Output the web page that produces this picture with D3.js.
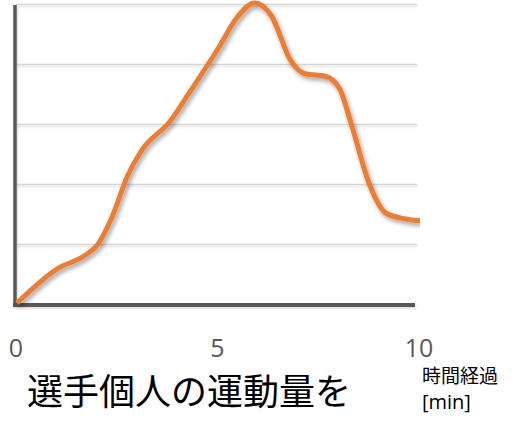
<!DOCTYPE html>
<html>
<head>
<meta charset="utf-8">
<script src="https://cdn.jsdelivr.net/npm/d3@7"></script>
<style>
  html, body { margin: 0; padding: 0; background: #fff; }
  svg { display: block; }
</style>
</head>
<body>
<svg id="chart" width="531" height="426"></svg>
<script>
// values (minutes vs. activity level)
const minutes = [0, 1.0, 1.7, 2.0, 2.35, 2.75, 3.1, 3.8, 4.3, 5.0, 5.45, 5.9, 6.3, 6.8, 7.15, 7.65, 8.0, 8.3, 8.75, 9.15, 9.65, 10];
const amount = [0, 0.57, 0.8, 0.97, 1.42, 2.13, 2.55, 3.03, 3.53, 4.25, 4.75, 5.0, 4.8, 4.03, 3.82, 3.78, 3.58, 2.97, 1.97, 1.5, 1.4, 1.37];
const xTicks = [0, 5, 10];
const gridValues = [1, 2, 3, 4, 5];
const title = "選手個人の運動量を";
const xTitle = ["時間経過", "[min]"];

const svg = d3.select("#chart");

const x = d3.scaleLinear().domain([0, 10]).range([17, 420]);
const y = d3.scaleLinear().domain([0, 5]).range([305, 5]);

const defs = svg.append("defs");
const shadow = defs.append("filter").attr("id", "shadow")
    .attr("x", "-10%").attr("y", "-10%").attr("width", "130%").attr("height", "130%");
shadow.append("feDropShadow")
    .attr("dx", 2).attr("dy", 3).attr("stdDeviation", 2)
    .attr("flood-color", "#000").attr("flood-opacity", 0.35);

// lines have a flat bounding box, so this one works in user space
const soft = defs.append("filter").attr("id", "soft")
    .attr("filterUnits", "userSpaceOnUse")
    .attr("x", 0).attr("y", 0).attr("width", 531).attr("height", 426);
soft.append("feDropShadow")
    .attr("dx", 1).attr("dy", 1.5).attr("stdDeviation", 1)
    .attr("flood-color", "#000").attr("flood-opacity", 0.15);

defs.append("clipPath").attr("id", "plot")
    .append("rect").attr("x", 0).attr("y", 0).attr("width", 420).attr("height", 320);

// gridlines
svg.append("g")
    .attr("filter", "url(#soft)")
    .selectAll("line")
    .data(gridValues)
    .join("line")
    .attr("x1", 16)
    .attr("x2", 417)
    .attr("y1", d => y(d) - 0.5)
    .attr("y2", d => y(d) - 0.5)
    .attr("stroke", "#d6d6d6")
    .attr("stroke-width", 1.5);

// axes
const axes = svg.append("g").attr("filter", "url(#soft)");
axes.append("line")
    .attr("x1", 15).attr("x2", 15)
    .attr("y1", 5).attr("y2", 307)
    .attr("stroke", "#595959").attr("stroke-width", 3.5);

axes.append("line")
    .attr("x1", 13).attr("x2", 415)
    .attr("y1", 305).attr("y2", 305)
    .attr("stroke", "#595959").attr("stroke-width", 4);

// series
const line = d3.line()
    .x((d, i) => x(minutes[i]))
    .y(d => y(d) - 2)
    .curve(d3.curveMonotoneX);

svg.append("path")
    .datum(amount)
    .attr("d", line)
    .attr("fill", "none")
    .attr("stroke", "#ED7D31")
    .attr("stroke-width", 5)
    .attr("stroke-linejoin", "round")
    .attr("clip-path", "url(#plot)")
    .attr("filter", "url(#shadow)");

// tick labels
svg.append("g")
    .selectAll("text")
    .data(xTicks)
    .join("text")
    .attr("x", d => x(d) - 1)
    .attr("y", 357)
    .attr("text-anchor", "middle")
    .attr("font-family", "'Open Sans', sans-serif")
    .attr("font-size", 25)
    .attr("fill", "#595959")
    .text(d => d);

// axis title
svg.append("text")
    .attr("x", 422)
    .attr("y", 383)
    .attr("font-family", "'Noto Sans CJK JP', sans-serif")
    .attr("font-size", 19)
    .attr("fill", "#000")
    .text(xTitle[0]);

svg.append("text")
    .attr("x", 422)
    .attr("y", 409)
    .attr("font-family", "'Open Sans', sans-serif")
    .attr("font-size", 20)
    .attr("fill", "#000")
    .text(xTitle[1]);

// caption
svg.append("text")
    .attr("x", 27)
    .attr("y", 405)
    .attr("font-family", "'Noto Sans CJK JP', sans-serif")
    .attr("font-size", 36)
    .attr("fill", "#000")
    .text(title);
</script>
</body>
</html>
